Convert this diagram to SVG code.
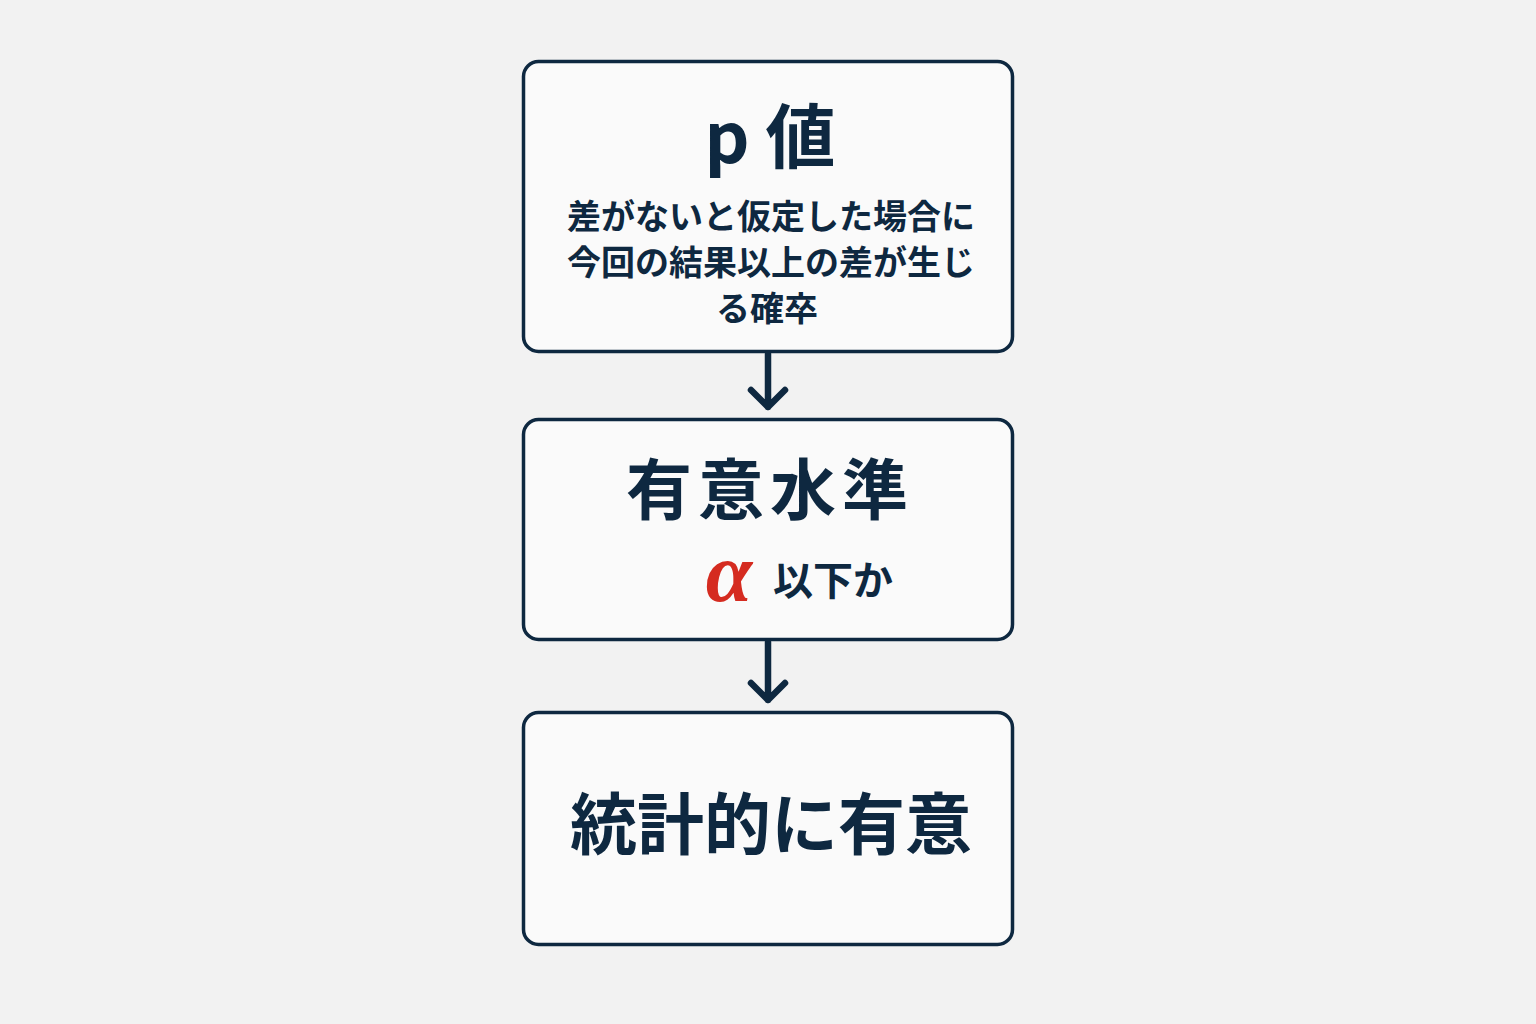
<svg xmlns="http://www.w3.org/2000/svg" width="1536" height="1024" viewBox="0 0 1536 1024">
<style>
.box{fill:#fafafa;stroke:#0e2840;stroke-width:3.5}
.t{fill:#0e2840;font-family:"Noto Sans CJK JP","Noto Sans",sans-serif;text-anchor:middle;font-weight:700}
.conn{fill:none;stroke:#0e2840;stroke-width:6.5;stroke-linecap:round;stroke-linejoin:round}
</style>
<rect width="1536" height="1024" fill="#f2f2f2"/>
<g id="node-pvalue">
<rect class="box" x="523.5" y="61.5" width="489" height="290" rx="15"/>
<text class="t" x="770" y="163" font-size="70">p 値</text>
<text class="t" x="771" y="229" font-size="34">差がないと仮定した場合に</text>
<text class="t" x="771" y="275" font-size="34">今回の結果以上の差が生じ</text>
<text class="t" x="767" y="321" font-size="34">る確卒</text>
</g>
<g id="node-alpha">
<rect class="box" x="523.5" y="419.5" width="489" height="220" rx="15"/>
<text class="t" x="770" y="514" font-size="66" letter-spacing="6">有意水準</text>
<text x="729" y="601" font-size="84" font-weight="700" fill="#d52b20" font-family="Liberation Serif,serif" font-style="italic" text-anchor="middle">α</text>
<text class="t" x="833" y="595" font-size="40" font-weight="500">以下か</text>
</g>
<g id="node-significant">
<rect class="box" x="523.5" y="712.5" width="489" height="232" rx="15"/>
<text class="t" x="771" y="849" font-size="67">統計的に有意</text>
</g>
<g id="connectors">
<path class="conn" d="M768 354V407M751 390L768 407L785 390"/>
<path class="conn" d="M768 642V700M751 683L768 700L785 683"/>
</g>
</svg>
